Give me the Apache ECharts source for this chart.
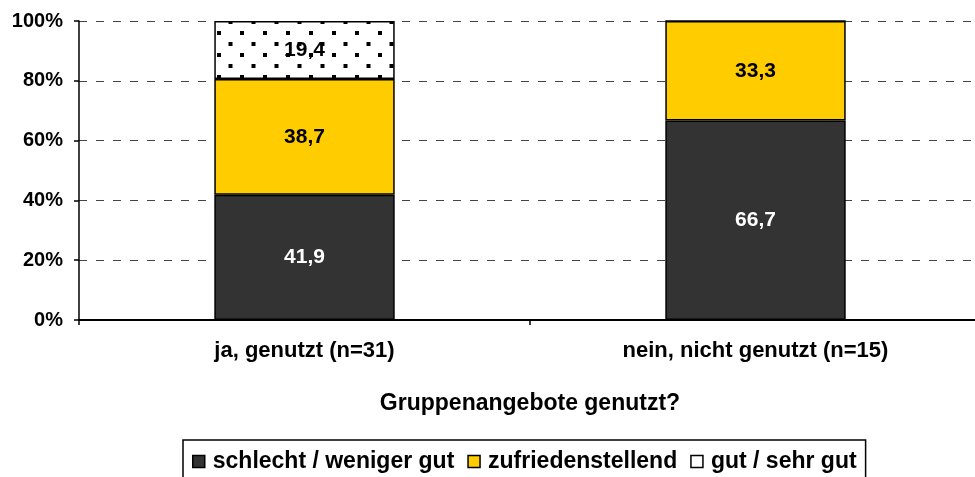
<!DOCTYPE html>
<html>
<head>
<meta charset="utf-8">
<script src="https://cdn.jsdelivr.net/npm/echarts@6/dist/echarts.min.js"></script>
<style>
  html, body { margin: 0; padding: 0; background: #fff; }
  #chart { width: 975px; height: 477px; }
</style>
</head>
<body>
<div id="chart"></div>
<script>
// Categories and percentage shares per rating group
const categories = ['ja, genutzt (n=31)', 'nein, nicht genutzt (n=15)'];
const schlecht = [41.9, 66.7];
const zufrieden = [38.7, 33.3];
const gut = [19.4, 0];
const yTicks = [0, 20, 40, 60, 80, 100];
const axisTitle = 'Gruppenangebote genutzt?';
const seriesNames = ['schlecht / weniger gut', 'zufriedenstellend', 'gut / sehr gut'];

// Dotted fill for the top segment
function dotPattern() {
  const c = document.createElement('canvas');
  c.width = 23; c.height = 22;
  const g = c.getContext('2d');
  g.fillStyle = '#fff';
  g.fillRect(0, 0, 23, 22);
  g.fillStyle = '#000';
  const dots = [[10, 9], [21.5, 20]];
  dots.forEach(([x, y]) => {
    for (const dx of [-23, 0, 23]) for (const dy of [-22, 0, 22]) g.fillRect(x + dx, y + dy, 4, 4);
  });
  return c;
}

const font = '"Liberation Sans", Arial, sans-serif';
const fmt = p => p.value > 0 ? p.value.toFixed(1).replace('.', ',') : '';
const labelStyle = color => ({
  show: true, position: 'inside', formatter: fmt, color: color,
  fontFamily: font, fontWeight: 'bold', fontSize: 21
});

const chart = echarts.init(document.getElementById('chart'));
chart.setOption({
  animation: false,
  textStyle: { fontFamily: font },
  // plot runs slightly past the right edge of the canvas
  grid: { left: 79, right: -6, top: 21, bottom: 157, outerBoundsMode: 'none', containLabel: false },
  legend: {
    top: 440,
    left: 183,
    icon: 'rect',
    itemWidth: 12,
    itemHeight: 12,
    itemGap: 13,
    padding: [10, 9, 20, 9],
    borderColor: '#000',
    borderWidth: 1.5,
    borderRadius: 0,
    textStyle: { fontFamily: font, fontWeight: 'bold', fontSize: 23, color: '#000', padding: [0, 0, 0, 3] },
    data: [
      { name: seriesNames[0], itemStyle: { color: '#333333', borderColor: '#000', borderWidth: 1.5 } },
      { name: seriesNames[1], itemStyle: { color: '#FFCC00', borderColor: '#000', borderWidth: 1.5 } },
      { name: seriesNames[2], itemStyle: { color: '#fff', borderColor: '#000', borderWidth: 1.5 } }
    ]
  },
  xAxis: {
    type: 'category',
    data: categories,
    name: axisTitle,
    nameLocation: 'middle',
    nameGap: 72,
    nameTextStyle: { fontFamily: font, fontWeight: 'bold', fontSize: 23, color: '#000' },
    axisLine: { lineStyle: { color: '#000', width: 2 } },
    axisTick: { show: true, length: 5, interval: 0, lineStyle: { color: '#000', width: 1.5 } },
    axisLabel: { margin: 20, fontFamily: font, fontWeight: 'bold', fontSize: 22, color: '#000' }
  },
  yAxis: {
    type: 'value',
    min: yTicks[0],
    max: yTicks[yTicks.length - 1],
    interval: 20,
    axisLine: { show: true, lineStyle: { color: '#000', width: 1.5 } },
    axisTick: { show: true, length: 5, lineStyle: { color: '#000', width: 1.5 } },
    axisLabel: { margin: 16, formatter: '{value}%', fontFamily: font, fontWeight: 'bold', fontSize: 20, color: '#000' },
    splitLine: { show: true, lineStyle: { color: '#444', type: [8, 9], width: 1 } }
  },
  series: [
    {
      name: seriesNames[0], type: 'bar', stack: 'total', barWidth: '40%', data: schlecht,
      itemStyle: { color: '#333333', borderColor: '#000', borderWidth: 1.5 },
      label: labelStyle('#fff')
    },
    {
      name: seriesNames[1], type: 'bar', stack: 'total', data: zufrieden,
      itemStyle: { color: '#FFCC00', borderColor: '#000', borderWidth: 1.5 },
      label: labelStyle('#000')
    },
    {
      name: seriesNames[2], type: 'bar', stack: 'total', data: gut,
      itemStyle: { color: { image: dotPattern(), repeat: 'repeat' }, borderColor: '#000', borderWidth: 1.5 },
      label: labelStyle('#000')
    }
  ]
});
</script>
</body>
</html>
